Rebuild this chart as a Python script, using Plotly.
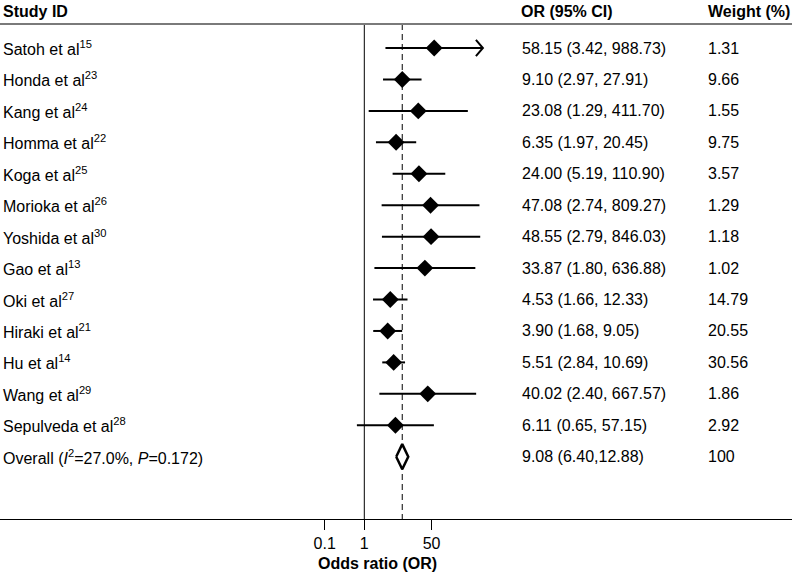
import math
import plotly.graph_objects as go

studies = ["Satoh et al<sup>15</sup>", "Honda et al<sup>23</sup>", "Kang et al<sup>24</sup>",
           "Homma et al<sup>22</sup>", "Koga et al<sup>25</sup>", "Morioka et al<sup>26</sup>",
           "Yoshida et al<sup>30</sup>", "Gao et al<sup>13</sup>", "Oki et al<sup>27</sup>",
           "Hiraki et al<sup>21</sup>", "Hu et al<sup>14</sup>", "Wang et al<sup>29</sup>",
           "Sepulveda et al<sup>28</sup>"]
or_vals = [58.15, 9.10, 23.08, 6.35, 24.00, 47.08, 48.55, 33.87, 4.53, 3.90, 5.51, 40.02, 6.11]
ci_low = [3.42, 2.97, 1.29, 1.97, 5.19, 2.74, 2.79, 1.80, 1.66, 1.68, 2.84, 2.40, 0.65]
ci_high = [988.73, 27.91, 411.70, 20.45, 110.90, 809.27, 846.03, 636.88, 12.33, 9.05, 10.69, 667.57, 57.15]
weights = ["1.31", "9.66", "1.55", "9.75", "3.57", "1.29", "1.18", "1.02", "14.79", "20.55",
           "30.56", "1.86", "2.92"]
overall_label = "Overall (<i>I</i><sup>2</sup>=27.0%, <i>P</i>=0.172)"
overall_or, overall_low, overall_high = 9.08, 6.40, 12.88
overall_weight = "100"
tick_vals = [0.1, 1, 50]
tick_text = ["0.1", "1", "50"]

W, H = 792, 575
FONT = "Liberation Sans, Arial, sans-serif"
FS = 16
px_one = 364.3
decade = 39.6
x_range = [-px_one / decade, (W - px_one) / decade]
top_px, bot_px = 24, 519
row0_px, row_step = 48, 31.44
y_top = -(row0_px - top_px) / row_step
y_bot = y_top + (bot_px - top_px) / row_step
plot_h = bot_px - top_px

n = len(studies)
rows = list(range(n))
overall_row = n

fig = go.Figure()

# reference lines
fig.add_trace(go.Scatter(x=[1, 1], y=[y_top, y_bot], mode="lines",
                         line=dict(color="black", width=1), hoverinfo="skip"))
fig.add_trace(go.Scatter(x=[overall_or, overall_or], y=[y_top, y_bot], mode="lines",
                         line=dict(color="black", width=1, dash="6px,4px"), hoverinfo="skip"))

# CI lines
cx, cy = [], []
for i in rows:
    cx += [ci_low[i], ci_high[i], None]
    cy += [i, i, None]
fig.add_trace(go.Scatter(x=cx, y=cy, mode="lines", line=dict(color="black", width=2),
                         hoverinfo="skip"))

# arrow on truncated CI (Satoh)
back = 10 ** (-7 / decade)
fig.add_trace(go.Scatter(x=[ci_high[0] * back, ci_high[0], ci_high[0] * back],
                         y=[0 - 0.26, 0, 0 + 0.26], mode="lines",
                         line=dict(color="black", width=2), hoverinfo="skip"))

# point estimates
fig.add_trace(go.Scatter(x=or_vals, y=rows, mode="markers",
                         marker=dict(symbol="diamond", size=13, color="black",
                                     line=dict(width=0)), hoverinfo="skip"))

# overall diamond
dh = 0.40
fig.add_trace(go.Scatter(x=[overall_low, overall_or, overall_high, overall_or, overall_low],
                         y=[overall_row, overall_row - dh, overall_row, overall_row + dh, overall_row],
                         mode="lines", fill="toself", fillcolor="white",
                         line=dict(color="black", width=2.5), hoverinfo="skip"))

ann = []
def txt(x_px, y, s, bold=False, yref="y"):
    ann.append(dict(x=x_px / W, xref="paper", y=y, yref=yref, text=f"<b>{s}</b>" if bold else s,
                    showarrow=False, xanchor="left", yanchor="middle",
                    font=dict(family=FONT, size=FS, color="black")))

hdr_y = 1 + (top_px - 11) / plot_h
txt(1, hdr_y, "Study ID", bold=True, yref="paper")
txt(519, hdr_y, "OR (95% CI)", bold=True, yref="paper")
txt(706, hdr_y, "Weight (%)", bold=True, yref="paper")

for i in rows:
    txt(1, i, studies[i])
    txt(520, i, f"{or_vals[i]:.2f} ({ci_low[i]:.2f}, {ci_high[i]:.2f})")
    txt(706, i, weights[i])
txt(1, overall_row, overall_label)
txt(520, overall_row, f"{overall_or:.2f} ({overall_low:.2f},{overall_high:.2f})")
txt(706, overall_row, overall_weight)

ann.append(dict(x=377 / W, xref="paper", y=(bot_px - 563) / plot_h, yref="paper",
                text="<b>Odds ratio (OR)</b>", showarrow=False, xanchor="center", yanchor="middle",
                font=dict(family=FONT, size=16, color="black")))

fig.update_layout(
    width=W, height=H, margin=dict(l=0, r=0, t=top_px, b=H - bot_px),
    plot_bgcolor="white", paper_bgcolor="white", showlegend=False,
    annotations=ann,
    shapes=[dict(type="line", xref="paper", yref="paper", x0=0, x1=1, y0=1, y1=1,
                 line=dict(color="#7a7a7a", width=2))],
    xaxis=dict(type="log", range=x_range, showgrid=False, zeroline=False,
               showline=True, linecolor="black", linewidth=1,
               ticks="outside", ticklen=10, tickcolor="black", tickwidth=1,
               tickvals=tick_vals, ticktext=tick_text,
               tickfont=dict(family=FONT, size=FS, color="black")),
    yaxis=dict(range=[y_bot, y_top], visible=False, showgrid=False, zeroline=False),
)

fig.write_html("out.html", config={"displayModeBar": False},
               post_script="document.body.style.margin='0';")
